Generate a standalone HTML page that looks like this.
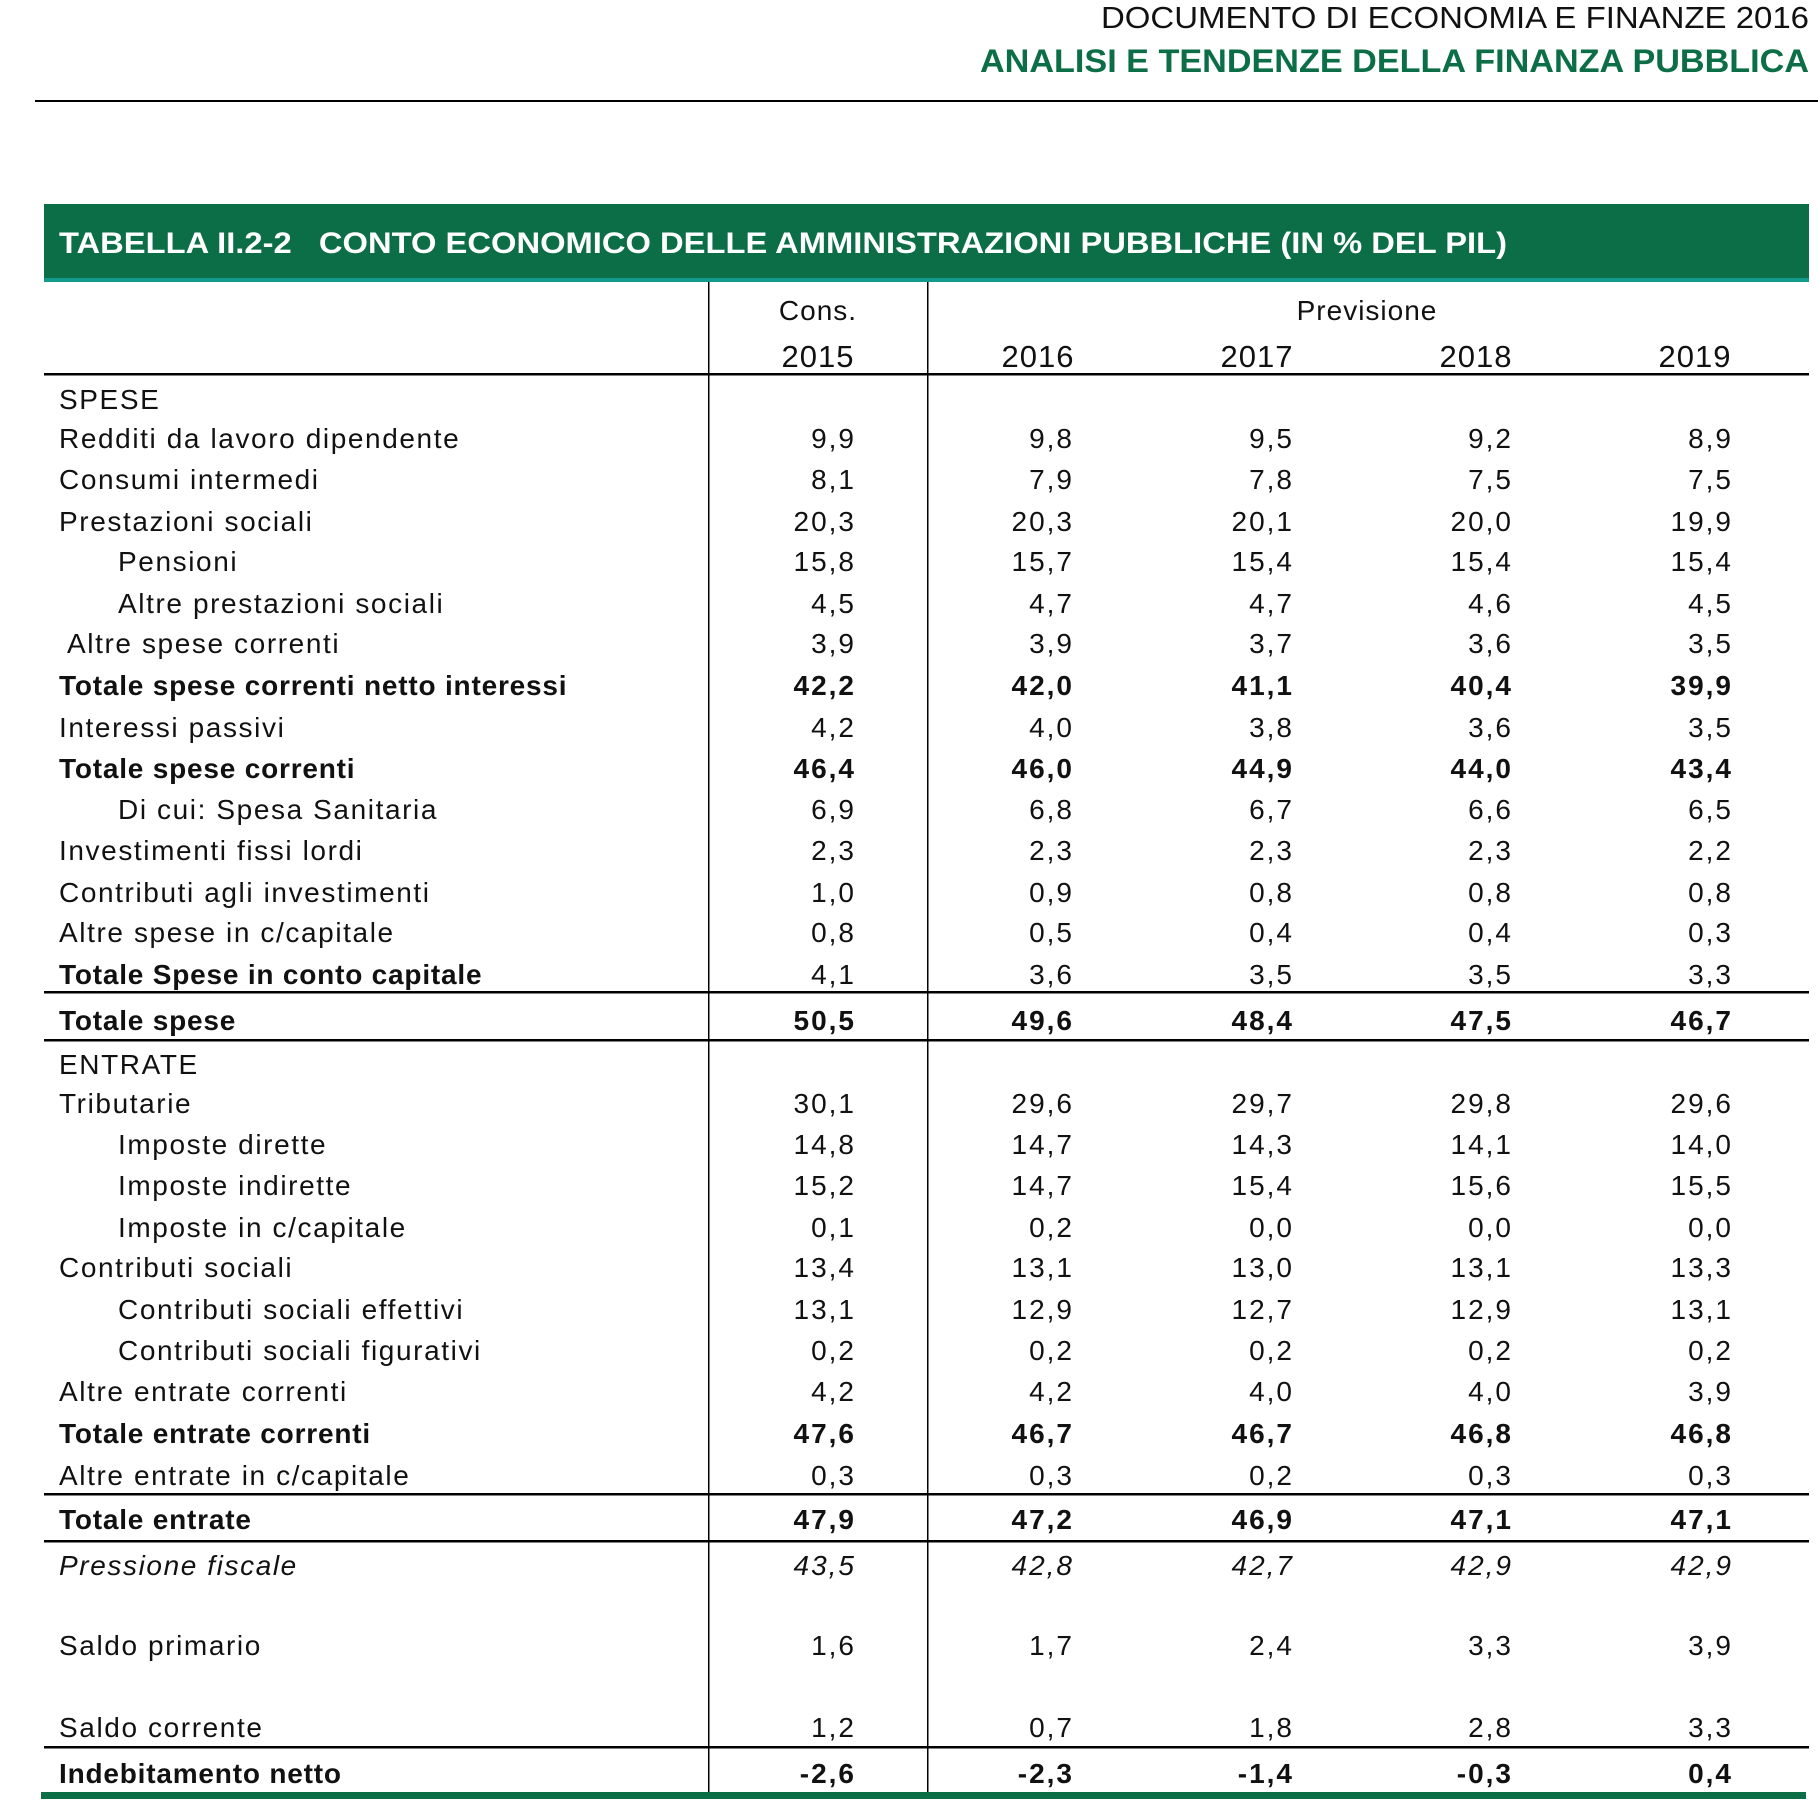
<!DOCTYPE html>
<html><head><meta charset="utf-8"><style>html,body{margin:0;padding:0;background:#fff;width:1818px;height:1803px;overflow:hidden}</style></head>
<body>
<svg width="1818" height="1803" viewBox="0 0 1818 1803" xmlns="http://www.w3.org/2000/svg" font-family="Liberation Sans, Arial, sans-serif">
<rect width="1818" height="1803" fill="#fff"/>
<text x="1809" y="28" text-anchor="end" font-size="31" fill="#111" textLength="708" lengthAdjust="spacingAndGlyphs">DOCUMENTO DI ECONOMIA E FINANZE 2016</text>
<text x="1809" y="72" text-anchor="end" font-size="32" font-weight="bold" fill="#0b6e47" textLength="829" lengthAdjust="spacingAndGlyphs">ANALISI E TENDENZE DELLA FINANZA PUBBLICA</text>
<rect x="35" y="100" width="1783" height="2" fill="#000"/>
<rect x="44" y="204" width="1765" height="75" fill="#0b6e47"/>
<rect x="44" y="278" width="1765" height="4" fill="#129a8a"/>
<text x="59" y="253" font-size="30" font-weight="bold" fill="#fff" textLength="1448" lengthAdjust="spacingAndGlyphs" xml:space="preserve">TABELLA II.2-2   CONTO ECONOMICO DELLE AMMINISTRAZIONI PUBBLICHE (IN % DEL PIL)</text>
<rect x="708" y="282" width="1.5" height="1510" fill="#000"/>
<rect x="927" y="282" width="1.5" height="1510" fill="#000"/>
<g fill="#000">
<rect x="44" y="373" width="1765" height="2.5"/>
<rect x="44" y="991" width="1765" height="2.5"/>
<rect x="44" y="1039" width="1765" height="2.5"/>
<rect x="44" y="1493" width="1765" height="2.5"/>
<rect x="44" y="1540" width="1765" height="2.5"/>
<rect x="44" y="1746" width="1765" height="2.5"/>
</g>
<rect x="41" y="1792" width="1765" height="7" fill="#0b6e47"/>
<g font-size="31" fill="#111" text-anchor="middle" letter-spacing="1">
<text x="818" y="320" font-size="28">Cons.</text>
<text x="1367" y="320" font-size="28">Previsione</text>
<text x="818" y="367">2015</text>
<text x="1038" y="367">2016</text>
<text x="1257" y="367">2017</text>
<text x="1476" y="367">2018</text>
<text x="1695" y="367">2019</text>
</g>
<g font-size="28" fill="#111" letter-spacing="1.6">
<text x="59" y="409">SPESE</text>
<text x="59" y="448">Redditi da lavoro dipendente</text>
<text x="59" y="489">Consumi intermedi</text>
<text x="59" y="531">Prestazioni sociali</text>
<text x="118" y="571">Pensioni</text>
<text x="118" y="613">Altre prestazioni sociali</text>
<text x="67" y="653">Altre spese correnti</text>
<text x="59" y="695" font-weight="bold" letter-spacing="0.8">Totale spese correnti netto interessi</text>
<text x="59" y="737">Interessi passivi</text>
<text x="59" y="778" font-weight="bold" letter-spacing="0.8">Totale spese correnti</text>
<text x="118" y="819">Di cui: Spesa Sanitaria</text>
<text x="59" y="860">Investimenti fissi lordi</text>
<text x="59" y="902">Contributi agli investimenti</text>
<text x="59" y="942">Altre spese in c/capitale</text>
<text x="59" y="984" font-weight="bold" letter-spacing="0.8">Totale Spese in conto capitale</text>
<text x="59" y="1030" font-weight="bold" letter-spacing="0.8">Totale spese</text>
<text x="59" y="1074">ENTRATE</text>
<text x="59" y="1113">Tributarie</text>
<text x="118" y="1154">Imposte dirette</text>
<text x="118" y="1195">Imposte indirette</text>
<text x="118" y="1237">Imposte in c/capitale</text>
<text x="59" y="1277">Contributi sociali</text>
<text x="118" y="1319">Contributi sociali effettivi</text>
<text x="118" y="1360">Contributi sociali figurativi</text>
<text x="59" y="1401">Altre entrate correnti</text>
<text x="59" y="1443" font-weight="bold" letter-spacing="0.8">Totale entrate correnti</text>
<text x="59" y="1485">Altre entrate in c/capitale</text>
<text x="59" y="1529" font-weight="bold" letter-spacing="0.8">Totale entrate</text>
<text x="59" y="1575" font-style="italic">Pressione fiscale</text>
<text x="59" y="1655">Saldo primario</text>
<text x="59" y="1737">Saldo corrente</text>
<text x="59" y="1783" font-weight="bold" letter-spacing="0.8">Indebitamento netto</text>
</g>
<g font-size="28" fill="#111" text-anchor="end" letter-spacing="2">
<g><text x="856" y="448">9,9</text><text x="1074" y="448">9,8</text><text x="1294" y="448">9,5</text><text x="1513" y="448">9,2</text><text x="1733" y="448">8,9</text></g>
<g><text x="856" y="489">8,1</text><text x="1074" y="489">7,9</text><text x="1294" y="489">7,8</text><text x="1513" y="489">7,5</text><text x="1733" y="489">7,5</text></g>
<g><text x="856" y="531">20,3</text><text x="1074" y="531">20,3</text><text x="1294" y="531">20,1</text><text x="1513" y="531">20,0</text><text x="1733" y="531">19,9</text></g>
<g><text x="856" y="571">15,8</text><text x="1074" y="571">15,7</text><text x="1294" y="571">15,4</text><text x="1513" y="571">15,4</text><text x="1733" y="571">15,4</text></g>
<g><text x="856" y="613">4,5</text><text x="1074" y="613">4,7</text><text x="1294" y="613">4,7</text><text x="1513" y="613">4,6</text><text x="1733" y="613">4,5</text></g>
<g><text x="856" y="653">3,9</text><text x="1074" y="653">3,9</text><text x="1294" y="653">3,7</text><text x="1513" y="653">3,6</text><text x="1733" y="653">3,5</text></g>
<g font-weight="bold"><text x="856" y="695">42,2</text><text x="1074" y="695">42,0</text><text x="1294" y="695">41,1</text><text x="1513" y="695">40,4</text><text x="1733" y="695">39,9</text></g>
<g><text x="856" y="737">4,2</text><text x="1074" y="737">4,0</text><text x="1294" y="737">3,8</text><text x="1513" y="737">3,6</text><text x="1733" y="737">3,5</text></g>
<g font-weight="bold"><text x="856" y="778">46,4</text><text x="1074" y="778">46,0</text><text x="1294" y="778">44,9</text><text x="1513" y="778">44,0</text><text x="1733" y="778">43,4</text></g>
<g><text x="856" y="819">6,9</text><text x="1074" y="819">6,8</text><text x="1294" y="819">6,7</text><text x="1513" y="819">6,6</text><text x="1733" y="819">6,5</text></g>
<g><text x="856" y="860">2,3</text><text x="1074" y="860">2,3</text><text x="1294" y="860">2,3</text><text x="1513" y="860">2,3</text><text x="1733" y="860">2,2</text></g>
<g><text x="856" y="902">1,0</text><text x="1074" y="902">0,9</text><text x="1294" y="902">0,8</text><text x="1513" y="902">0,8</text><text x="1733" y="902">0,8</text></g>
<g><text x="856" y="942">0,8</text><text x="1074" y="942">0,5</text><text x="1294" y="942">0,4</text><text x="1513" y="942">0,4</text><text x="1733" y="942">0,3</text></g>
<g><text x="856" y="984">4,1</text><text x="1074" y="984">3,6</text><text x="1294" y="984">3,5</text><text x="1513" y="984">3,5</text><text x="1733" y="984">3,3</text></g>
<g font-weight="bold"><text x="856" y="1030">50,5</text><text x="1074" y="1030">49,6</text><text x="1294" y="1030">48,4</text><text x="1513" y="1030">47,5</text><text x="1733" y="1030">46,7</text></g>
<g><text x="856" y="1113">30,1</text><text x="1074" y="1113">29,6</text><text x="1294" y="1113">29,7</text><text x="1513" y="1113">29,8</text><text x="1733" y="1113">29,6</text></g>
<g><text x="856" y="1154">14,8</text><text x="1074" y="1154">14,7</text><text x="1294" y="1154">14,3</text><text x="1513" y="1154">14,1</text><text x="1733" y="1154">14,0</text></g>
<g><text x="856" y="1195">15,2</text><text x="1074" y="1195">14,7</text><text x="1294" y="1195">15,4</text><text x="1513" y="1195">15,6</text><text x="1733" y="1195">15,5</text></g>
<g><text x="856" y="1237">0,1</text><text x="1074" y="1237">0,2</text><text x="1294" y="1237">0,0</text><text x="1513" y="1237">0,0</text><text x="1733" y="1237">0,0</text></g>
<g><text x="856" y="1277">13,4</text><text x="1074" y="1277">13,1</text><text x="1294" y="1277">13,0</text><text x="1513" y="1277">13,1</text><text x="1733" y="1277">13,3</text></g>
<g><text x="856" y="1319">13,1</text><text x="1074" y="1319">12,9</text><text x="1294" y="1319">12,7</text><text x="1513" y="1319">12,9</text><text x="1733" y="1319">13,1</text></g>
<g><text x="856" y="1360">0,2</text><text x="1074" y="1360">0,2</text><text x="1294" y="1360">0,2</text><text x="1513" y="1360">0,2</text><text x="1733" y="1360">0,2</text></g>
<g><text x="856" y="1401">4,2</text><text x="1074" y="1401">4,2</text><text x="1294" y="1401">4,0</text><text x="1513" y="1401">4,0</text><text x="1733" y="1401">3,9</text></g>
<g font-weight="bold"><text x="856" y="1443">47,6</text><text x="1074" y="1443">46,7</text><text x="1294" y="1443">46,7</text><text x="1513" y="1443">46,8</text><text x="1733" y="1443">46,8</text></g>
<g><text x="856" y="1485">0,3</text><text x="1074" y="1485">0,3</text><text x="1294" y="1485">0,2</text><text x="1513" y="1485">0,3</text><text x="1733" y="1485">0,3</text></g>
<g font-weight="bold"><text x="856" y="1529">47,9</text><text x="1074" y="1529">47,2</text><text x="1294" y="1529">46,9</text><text x="1513" y="1529">47,1</text><text x="1733" y="1529">47,1</text></g>
<g font-style="italic"><text x="856" y="1575">43,5</text><text x="1074" y="1575">42,8</text><text x="1294" y="1575">42,7</text><text x="1513" y="1575">42,9</text><text x="1733" y="1575">42,9</text></g>
<g><text x="856" y="1655">1,6</text><text x="1074" y="1655">1,7</text><text x="1294" y="1655">2,4</text><text x="1513" y="1655">3,3</text><text x="1733" y="1655">3,9</text></g>
<g><text x="856" y="1737">1,2</text><text x="1074" y="1737">0,7</text><text x="1294" y="1737">1,8</text><text x="1513" y="1737">2,8</text><text x="1733" y="1737">3,3</text></g>
<g font-weight="bold"><text x="856" y="1783">-2,6</text><text x="1074" y="1783">-2,3</text><text x="1294" y="1783">-1,4</text><text x="1513" y="1783">-0,3</text><text x="1733" y="1783">0,4</text></g>
</g>
</svg>
</body></html>
